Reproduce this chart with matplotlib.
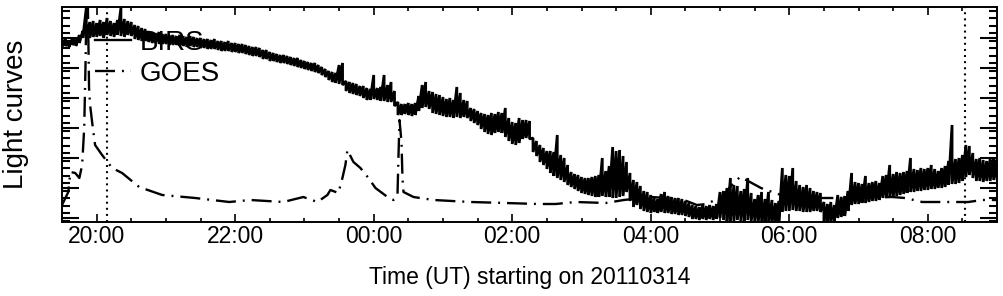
import matplotlib
matplotlib.use('Agg')
import matplotlib.pyplot as plt
import numpy as np
from matplotlib.ticker import FixedLocator, MultipleLocator

plt.rcParams['font.family'] = ['Liberation Sans', 'DejaVu Sans']
plt.rcParams['lines.scale_dashes'] = False

# ---------------- data ----------------
# BIRS: min / max of the noisy light curve in 3-minute bins from 19:30 UT
# (hours counted from 00:00 of 20110314; arbitrary flux units)
birs_start_hour = 19.5
birs_step_hour = 0.05
birs_high = [
    181, 182, 180, 183, 182, 186, 190, 213, 199, 200,
    198, 201, 199, 203, 200, 198, 201, 213, 202, 200,
    199, 196, 195, 193, 192, 190, 189, 188, 189, 187,
    187, 186, 186, 185, 186, 185, 184, 185, 184, 183,
    183, 182, 182, 181, 182, 180, 180, 179, 180, 178,
    178, 177, 177, 176, 175, 174, 174, 173, 171, 171,
    169, 168, 167, 166, 166, 165, 164, 163, 163, 161,
    160, 159, 158, 158, 156, 154, 152, 150, 149, 148,
    156, 158, 140, 139, 138, 137, 135, 135, 133, 132,
    146, 133, 134, 146, 136, 139, 130, 119, 117, 117,
    118, 117, 118, 125, 136, 139, 130, 129, 127, 126,
    124, 122, 123, 121, 134, 128, 121, 120, 113, 112,
    110, 108, 107, 106, 108, 107, 109, 108, 113, 103,
    99, 98, 103, 101, 101, 100, 83, 80, 76, 73,
    70, 70, 69, 86, 66, 63, 56, 49, 47, 46,
    44, 43, 43, 44, 45, 46, 63, 50, 55, 74,
    70, 71, 65, 59, 48, 41, 39, 35, 30, 29,
    26, 24, 22, 27, 29, 25, 24, 23, 23, 22,
    20, 18, 16, 15, 14, 16, 15, 16, 15, 17,
    29, 30, 33, 43, 36, 35, 30, 32, 43, 28,
    22, 26, 29, 22, 29, 21, 18, 20, 53, 46,
    45, 53, 40, 36, 34, 36, 33, 30, 29, 28,
    19, 17, 19, 16, 26, 24, 25, 30, 48, 39,
    38, 37, 45, 38, 39, 40, 38, 45, 46, 56,
    47, 49, 48, 49, 50, 63, 52, 51, 53, 52,
    53, 56, 52, 50, 53, 55, 60, 96, 62, 63,
    66, 76, 75, 68, 62, 63, 61, 60, 62, 63, 62,
]
birs_low = [
    174, 175, 174, 176, 175, 178, 183, 184, 183, 184,
    184, 185, 183, 186, 185, 184, 186, 185, 184, 186,
    185, 182, 181, 180, 180, 179, 178, 178, 177, 177,
    177, 176, 176, 176, 175, 175, 174, 175, 174, 174,
    173, 173, 172, 172, 172, 171, 170, 170, 170, 169,
    169, 168, 168, 167, 166, 165, 165, 164, 162, 162,
    160, 160, 159, 158, 158, 157, 156, 155, 154, 153,
    152, 151, 150, 149, 148, 146, 144, 141, 139, 138,
    137, 136, 130, 128, 127, 126, 125, 123, 121, 121,
    122, 121, 120, 120, 119, 119, 115, 106, 106, 107,
    106, 105, 106, 110, 113, 114, 112, 108, 107, 106,
    105, 104, 104, 103, 104, 103, 104, 103, 100, 98,
    96, 92, 89, 87, 86, 88, 89, 88, 84, 80,
    77, 76, 78, 82, 83, 82, 69, 65, 59, 56,
    52, 48, 45, 43, 41, 39, 36, 34, 32, 30,
    28, 27, 26, 25, 24, 24, 25, 24, 24, 23,
    23, 24, 25, 29, 20, 14, 16, 12, 10, 9,
    8, 9, 8, 9, 8, 8, 7, 7, 6, 6,
    5, 4, 2, 2, 1, 2, 1, 2, 1, 2,
    3, 1, 0, -1, 0, 1, -1, 0, 1, 0,
    -1, -2, -2, -1, -2, -2, -1, 0, 9, 10,
    10, 11, 10, 10, 9, 9, 9, 10, 10, 9,
    -2, -2, -1, 0, 3, 4, 5, 10, 16, 17,
    17, 18, 18, 19, 20, 20, 21, 23, 23, 24,
    24, 25, 26, 27, 28, 29, 29, 30, 30, 31,
    31, 32, 32, 33, 33, 34, 36, 37, 37, 38,
    40, 44, 46, 43, 40, 40, 39, 40, 40, 41, 42,
]

goes_hours = [
    19.50, 19.59, 19.62, 19.69, 19.75, 19.79, 19.82, 19.84, 19.855, 19.87,
    19.89, 19.905, 19.934, 19.977, 20.078, 20.223, 20.367, 20.613, 20.946, 21.423,
    21.914, 22.218, 22.695, 22.984, 23.187, 23.331, 23.375, 23.490, 23.548, 23.591,
    23.620, 23.707, 23.808, 23.924, 24.025, 24.199, 24.285, 24.343, 24.358, 24.372,
    24.401, 24.415, 24.430, 24.574, 24.864, 25.40, 25.90, 26.382, 26.627, 26.917,
    27.350, 27.611, 28.001, 28.232, 28.478, 28.666, 28.811, 28.926, 29.056, 29.143,
    29.288, 29.432, 29.591, 29.880, 30.170, 30.892, 31.485, 31.673, 31.919, 32.295,
    32.584, 32.786, 33.00,
]
goes_values = [
    16, 29, 49, 48, 43, 56, 93, 160, 230, 230,
    133, 116, 99, 76, 66, 53, 48, 34, 26, 23,
    19, 21, 19, 24, 19, 26, 31, 28, 43, 56,
    71, 59, 53, 43, 33, 24, 21, 26, 66, 101,
    79, 43, 29, 24, 21, 19, 18, 17, 17, 19,
    18, 21, 24, 23, 21, 16, 17, 21, 26, 34,
    44, 39, 33, 26, 23, 23, 24, 23, 19, 19,
    19, 21, 21,
]

marker_hours = [20.15, 32.53]
xtick_hours = [20, 22, 24, 26, 28, 30, 32]
xtick_labels = ['20:00', '22:00', '00:00', '02:00', '04:00', '06:00', '08:00']
ytick_major = [3, 33, 63, 93, 123, 153, 183]
series_labels = ['BIRS', 'GOES']

birs_hours = birs_start_hour + birs_step_hour * np.arange(len(birs_high))
# trace each bin from its maximum to its minimum, bin after bin
birs_trace_x = np.repeat(birs_hours, 2)
birs_trace_y = np.column_stack([birs_high, birs_low]).ravel()

# ---------------- figure ----------------
fig = plt.figure(figsize=(10.04, 2.96), dpi=100)
ax = fig.add_axes([0.0618, 0.25, 0.9313, 0.7264])

l1, = ax.plot(birs_trace_x, birs_trace_y, color='black', lw=2.0,
              solid_joinstyle='bevel', label=series_labels[0])
l2, = ax.plot(goes_hours, goes_values, color='black', lw=1.7,
              dashes=(14.4, 5, 1.4, 5), label=series_labels[1])
for h in marker_hours:
    ax.axvline(h, color='black', lw=1.5, linestyle=(0, (1.4, 3.0)))

ax.set_xlim(19.5, 33.0)
ax.set_ylim(-1, 214)

ax.xaxis.set_major_locator(FixedLocator(xtick_hours))
ax.set_xticklabels(xtick_labels)
ax.xaxis.set_minor_locator(MultipleLocator(0.5))
ax.yaxis.set_major_locator(FixedLocator(ytick_major))
ax.yaxis.set_minor_locator(MultipleLocator(7.5))
ax.set_yticklabels([])

ax.tick_params(axis='x', which='both', direction='in', top=True, bottom=True,
               width=1.2, labelsize=16.5, pad=2)
ax.tick_params(axis='x', which='major', length=5.5)
ax.tick_params(axis='x', which='minor', length=3)
ax.tick_params(axis='y', which='both', direction='in', left=True, right=True, width=1.5)
ax.tick_params(axis='y', which='major', length=12)
ax.tick_params(axis='y', which='minor', length=6)

for s in ax.spines.values():
    s.set_linewidth(1.4)

ax.set_xlabel('Time (UT) starting on 20110314', fontsize=16.5, labelpad=13)
ax.set_ylabel('Light curves', fontsize=20, labelpad=20)

leg = ax.legend(handles=[l1, l2], loc='upper left',
                bbox_to_anchor=(0.0353, 0.895), frameon=False, fontsize=20,
                handlelength=1.3, handletextpad=0.3, labelspacing=0.2,
                borderpad=0, borderaxespad=0)
leg.legend_handles[0].set_linewidth(1.7)

fig.savefig('out.png', dpi=100)
